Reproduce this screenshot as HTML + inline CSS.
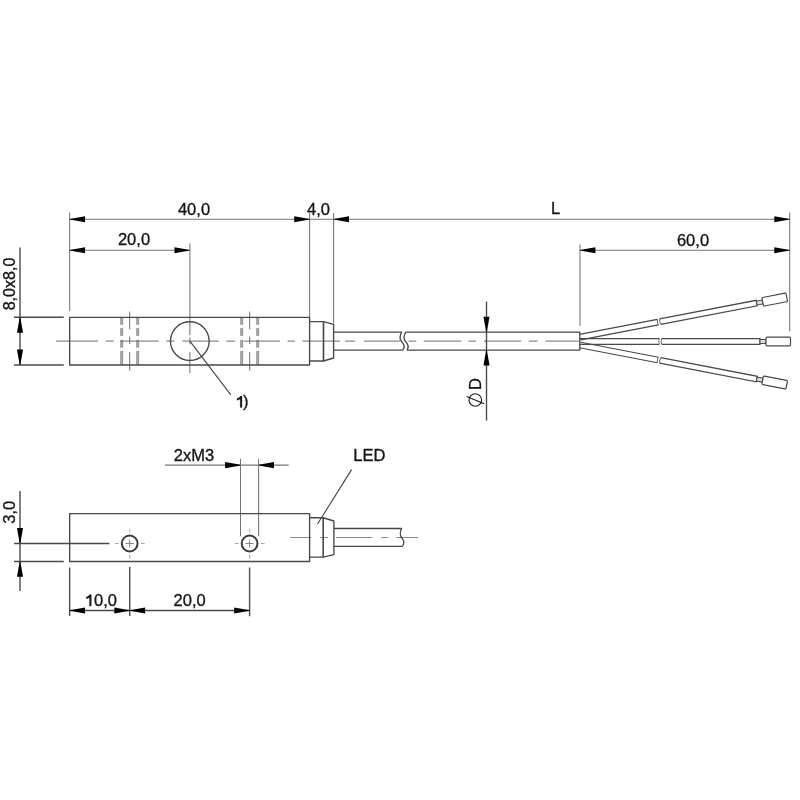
<!DOCTYPE html>
<html><head><meta charset="utf-8"><title>Drawing</title>
<style>html,body{margin:0;padding:0;background:#fff;width:800px;height:800px;overflow:hidden}svg{display:block;will-change:transform}</style>
</head><body>
<svg width="800" height="800" viewBox="0 0 800 800">
<rect x="0" y="0" width="800" height="800" fill="#fff"/>
<line x1="69.65" y1="212.5" x2="69.65" y2="311" stroke="#747474" stroke-width="1.05"/>
<line x1="309.6" y1="213" x2="309.6" y2="317" stroke="#747474" stroke-width="1.05"/>
<line x1="333.6" y1="213" x2="333.6" y2="323.5" stroke="#747474" stroke-width="1.05"/>
<line x1="789.7" y1="212.5" x2="789.7" y2="331.25" stroke="#747474" stroke-width="1.05"/>
<line x1="580" y1="244.4" x2="580" y2="326" stroke="#747474" stroke-width="1.05"/>
<line x1="69.65" y1="219.2" x2="789.7" y2="219.2" stroke="#747474" stroke-width="1.05"/>
<line x1="69.65" y1="250.2" x2="189.9" y2="250.2" stroke="#747474" stroke-width="1.05"/>
<line x1="580" y1="250.2" x2="789.7" y2="250.2" stroke="#747474" stroke-width="1.05"/>
<polygon points="69.65,218.90 69.65,219.50 85.05,222.25 85.05,216.15" fill="#000"/>
<polygon points="309.60,218.90 309.60,219.50 294.20,222.25 294.20,216.15" fill="#000"/>
<polygon points="333.60,218.90 333.60,219.50 349.00,222.25 349.00,216.15" fill="#000"/>
<polygon points="789.70,218.90 789.70,219.50 774.30,222.25 774.30,216.15" fill="#000"/>
<polygon points="69.65,249.90 69.65,250.50 85.05,253.25 85.05,247.15" fill="#000"/>
<polygon points="189.90,249.90 189.90,250.50 174.50,253.25 174.50,247.15" fill="#000"/>
<polygon points="580.00,249.90 580.00,250.50 595.40,253.25 595.40,247.15" fill="#000"/>
<polygon points="789.70,249.90 789.70,250.50 774.30,253.25 774.30,247.15" fill="#000"/>
<line x1="20" y1="247.5" x2="20" y2="365.0" stroke="#4a4a4a" stroke-width="1.4"/>
<line x1="14" y1="317.3" x2="63.8" y2="317.3" stroke="#4a4a4a" stroke-width="1.4"/>
<line x1="14" y1="365.0" x2="63.8" y2="365.0" stroke="#4a4a4a" stroke-width="1.4"/>
<polygon points="19.70,317.30 20.30,317.30 23.05,332.70 16.95,332.70" fill="#000"/>
<polygon points="19.70,365.00 20.30,365.00 23.05,349.60 16.95,349.60" fill="#000"/>
<line x1="189.9" y1="243.5" x2="189.9" y2="335.3" stroke="#747474" stroke-width="1.05"/>
<line x1="189.9" y1="337.5" x2="189.9" y2="344.2" stroke="#6e6e6e" stroke-width="1.0"/>
<line x1="189.9" y1="352.1" x2="189.9" y2="373.1" stroke="#6e6e6e" stroke-width="1.0"/>
<line x1="121.69999999999999" y1="317.3" x2="121.69999999999999" y2="324.7" stroke="#b2b2b2" stroke-width="2.9"/>
<line x1="121.69999999999999" y1="328.1" x2="121.69999999999999" y2="335.9" stroke="#b2b2b2" stroke-width="2.9"/>
<line x1="121.69999999999999" y1="339.9" x2="121.69999999999999" y2="347.6" stroke="#b2b2b2" stroke-width="2.9"/>
<line x1="121.69999999999999" y1="351" x2="121.69999999999999" y2="365.0" stroke="#b2b2b2" stroke-width="2.9"/>
<line x1="137.7" y1="317.3" x2="137.7" y2="324.7" stroke="#b2b2b2" stroke-width="2.9"/>
<line x1="137.7" y1="328.1" x2="137.7" y2="335.9" stroke="#b2b2b2" stroke-width="2.9"/>
<line x1="137.7" y1="339.9" x2="137.7" y2="347.6" stroke="#b2b2b2" stroke-width="2.9"/>
<line x1="137.7" y1="351" x2="137.7" y2="365.0" stroke="#b2b2b2" stroke-width="2.9"/>
<line x1="120.85" y1="317.3" x2="120.85" y2="324.7" stroke="#909090" stroke-width="0.8"/>
<line x1="120.85" y1="328.1" x2="120.85" y2="335.9" stroke="#909090" stroke-width="0.8"/>
<line x1="120.85" y1="339.9" x2="120.85" y2="347.6" stroke="#909090" stroke-width="0.8"/>
<line x1="120.85" y1="351" x2="120.85" y2="365.0" stroke="#909090" stroke-width="0.8"/>
<line x1="122.54999999999998" y1="317.3" x2="122.54999999999998" y2="324.7" stroke="#909090" stroke-width="0.8"/>
<line x1="122.54999999999998" y1="328.1" x2="122.54999999999998" y2="335.9" stroke="#909090" stroke-width="0.8"/>
<line x1="122.54999999999998" y1="339.9" x2="122.54999999999998" y2="347.6" stroke="#909090" stroke-width="0.8"/>
<line x1="122.54999999999998" y1="351" x2="122.54999999999998" y2="365.0" stroke="#909090" stroke-width="0.8"/>
<line x1="136.85" y1="317.3" x2="136.85" y2="324.7" stroke="#909090" stroke-width="0.8"/>
<line x1="136.85" y1="328.1" x2="136.85" y2="335.9" stroke="#909090" stroke-width="0.8"/>
<line x1="136.85" y1="339.9" x2="136.85" y2="347.6" stroke="#909090" stroke-width="0.8"/>
<line x1="136.85" y1="351" x2="136.85" y2="365.0" stroke="#909090" stroke-width="0.8"/>
<line x1="138.54999999999998" y1="317.3" x2="138.54999999999998" y2="324.7" stroke="#909090" stroke-width="0.8"/>
<line x1="138.54999999999998" y1="328.1" x2="138.54999999999998" y2="335.9" stroke="#909090" stroke-width="0.8"/>
<line x1="138.54999999999998" y1="339.9" x2="138.54999999999998" y2="347.6" stroke="#909090" stroke-width="0.8"/>
<line x1="138.54999999999998" y1="351" x2="138.54999999999998" y2="365.0" stroke="#909090" stroke-width="0.8"/>
<line x1="129.7" y1="311.5" x2="129.7" y2="329.2" stroke="#6e6e6e" stroke-width="1.0"/>
<line x1="129.7" y1="336.5" x2="129.7" y2="344" stroke="#6e6e6e" stroke-width="1.0"/>
<line x1="129.7" y1="352.2" x2="129.7" y2="370.6" stroke="#6e6e6e" stroke-width="1.0"/>
<line x1="241.7" y1="317.3" x2="241.7" y2="324.7" stroke="#b2b2b2" stroke-width="2.9"/>
<line x1="241.7" y1="328.1" x2="241.7" y2="335.9" stroke="#b2b2b2" stroke-width="2.9"/>
<line x1="241.7" y1="339.9" x2="241.7" y2="347.6" stroke="#b2b2b2" stroke-width="2.9"/>
<line x1="241.7" y1="351" x2="241.7" y2="365.0" stroke="#b2b2b2" stroke-width="2.9"/>
<line x1="257.7" y1="317.3" x2="257.7" y2="324.7" stroke="#b2b2b2" stroke-width="2.9"/>
<line x1="257.7" y1="328.1" x2="257.7" y2="335.9" stroke="#b2b2b2" stroke-width="2.9"/>
<line x1="257.7" y1="339.9" x2="257.7" y2="347.6" stroke="#b2b2b2" stroke-width="2.9"/>
<line x1="257.7" y1="351" x2="257.7" y2="365.0" stroke="#b2b2b2" stroke-width="2.9"/>
<line x1="240.85" y1="317.3" x2="240.85" y2="324.7" stroke="#909090" stroke-width="0.8"/>
<line x1="240.85" y1="328.1" x2="240.85" y2="335.9" stroke="#909090" stroke-width="0.8"/>
<line x1="240.85" y1="339.9" x2="240.85" y2="347.6" stroke="#909090" stroke-width="0.8"/>
<line x1="240.85" y1="351" x2="240.85" y2="365.0" stroke="#909090" stroke-width="0.8"/>
<line x1="242.54999999999998" y1="317.3" x2="242.54999999999998" y2="324.7" stroke="#909090" stroke-width="0.8"/>
<line x1="242.54999999999998" y1="328.1" x2="242.54999999999998" y2="335.9" stroke="#909090" stroke-width="0.8"/>
<line x1="242.54999999999998" y1="339.9" x2="242.54999999999998" y2="347.6" stroke="#909090" stroke-width="0.8"/>
<line x1="242.54999999999998" y1="351" x2="242.54999999999998" y2="365.0" stroke="#909090" stroke-width="0.8"/>
<line x1="256.84999999999997" y1="317.3" x2="256.84999999999997" y2="324.7" stroke="#909090" stroke-width="0.8"/>
<line x1="256.84999999999997" y1="328.1" x2="256.84999999999997" y2="335.9" stroke="#909090" stroke-width="0.8"/>
<line x1="256.84999999999997" y1="339.9" x2="256.84999999999997" y2="347.6" stroke="#909090" stroke-width="0.8"/>
<line x1="256.84999999999997" y1="351" x2="256.84999999999997" y2="365.0" stroke="#909090" stroke-width="0.8"/>
<line x1="258.55" y1="317.3" x2="258.55" y2="324.7" stroke="#909090" stroke-width="0.8"/>
<line x1="258.55" y1="328.1" x2="258.55" y2="335.9" stroke="#909090" stroke-width="0.8"/>
<line x1="258.55" y1="339.9" x2="258.55" y2="347.6" stroke="#909090" stroke-width="0.8"/>
<line x1="258.55" y1="351" x2="258.55" y2="365.0" stroke="#909090" stroke-width="0.8"/>
<line x1="249.7" y1="311.5" x2="249.7" y2="329.2" stroke="#6e6e6e" stroke-width="1.0"/>
<line x1="249.7" y1="336.5" x2="249.7" y2="344" stroke="#6e6e6e" stroke-width="1.0"/>
<line x1="249.7" y1="352.2" x2="249.7" y2="370.6" stroke="#6e6e6e" stroke-width="1.0"/>
<line x1="56" y1="341.1" x2="98" y2="341.1" stroke="#6e6e6e" stroke-width="1.0"/>
<line x1="105.5" y1="341.1" x2="113.75" y2="341.1" stroke="#6e6e6e" stroke-width="1.0"/>
<line x1="120.5" y1="341.1" x2="158.75" y2="341.1" stroke="#6e6e6e" stroke-width="1.0"/>
<line x1="166.25" y1="341.1" x2="174.4" y2="341.1" stroke="#6e6e6e" stroke-width="1.0"/>
<line x1="182.5" y1="341.1" x2="218.75" y2="341.1" stroke="#6e6e6e" stroke-width="1.0"/>
<line x1="226.25" y1="341.1" x2="235" y2="341.1" stroke="#6e6e6e" stroke-width="1.0"/>
<line x1="243.5" y1="341.1" x2="280" y2="341.1" stroke="#6e6e6e" stroke-width="1.0"/>
<line x1="287.5" y1="341.1" x2="295" y2="341.1" stroke="#6e6e6e" stroke-width="1.0"/>
<line x1="302.5" y1="341.1" x2="340" y2="341.1" stroke="#6e6e6e" stroke-width="1.0"/>
<line x1="345" y1="341.1" x2="355" y2="341.1" stroke="#6e6e6e" stroke-width="1.0"/>
<line x1="363.75" y1="341.1" x2="400" y2="341.1" stroke="#6e6e6e" stroke-width="1.0"/>
<line x1="408.75" y1="341.1" x2="416.25" y2="341.1" stroke="#6e6e6e" stroke-width="1.0"/>
<line x1="423.75" y1="341.1" x2="461.4" y2="341.1" stroke="#6e6e6e" stroke-width="1.0"/>
<line x1="468.4" y1="341.1" x2="476.3" y2="341.1" stroke="#6e6e6e" stroke-width="1.0"/>
<line x1="484" y1="341.1" x2="521" y2="341.1" stroke="#6e6e6e" stroke-width="1.0"/>
<line x1="528.8" y1="341.1" x2="537.6" y2="341.1" stroke="#6e6e6e" stroke-width="1.0"/>
<line x1="545.4" y1="341.1" x2="578.7" y2="341.1" stroke="#6e6e6e" stroke-width="1.0"/>
<path d="M69.65,317.3 H309.6 V365.0 H69.65 Z" stroke="#484848" stroke-width="1.35" fill="none" stroke-linejoin="round"/>
<path d="M309.6,321.6 H323.5 V361 H309.6" stroke="#484848" stroke-width="1.35" fill="none" stroke-linejoin="round"/>
<path d="M323.5,321.6 L333.6,324.4 V358 L323.5,361 Z" stroke="#484848" stroke-width="1.35" fill="none" stroke-linejoin="round"/>
<circle cx="189.8" cy="341.1" r="19.35" stroke="#484848" stroke-width="1.35" fill="none"/>
<path d="M333.6,332.1 H401.8 M333.6,350.1 H402.9 M405.75,332.1 H579.8 V350.1 H407" stroke="#484848" stroke-width="1.35" fill="none" stroke-linejoin="round"/>
<path d="M401.8,332.1 C399.5,335.5 399.5,339.5 401.5,341.5 C404.5,344.5 404.5,348 402.9,350.1" stroke="#484848" stroke-width="1.35" fill="none" stroke-linejoin="round"/>
<path d="M405.75,332.1 C403.5,335.5 403.5,339.5 405.5,341.5 C408.5,344.5 408.5,348 407,350.1" stroke="#484848" stroke-width="1.35" fill="none" stroke-linejoin="round"/>
<line x1="189.9" y1="341.1" x2="230.8" y2="394.9" stroke="#484848" stroke-width="1.15"/>
<line x1="486.5" y1="301.6" x2="486.5" y2="420.6" stroke="#4a4a4a" stroke-width="1.4"/>
<polygon points="486.20,332.10 486.80,332.10 489.55,316.70 483.45,316.70" fill="#000"/>
<polygon points="486.20,350.10 486.80,350.10 489.55,365.50 483.45,365.50" fill="#000"/>
<g transform="translate(580 337.1) rotate(-10.9)"><path d="M0,-2.8 H79.3 M0,2.8 H79.3 M81.7,-2.8 H180 V2.8 H81.7" stroke="#484848" stroke-width="1.2" fill="none"/><path d="M79.3,-2.8 Q78.3,0 79.3,2.8 M81.7,-2.8 Q80.7,0 81.7,2.8" stroke="#484848" stroke-width="0.8" fill="none"/><rect x="180" y="-2" width="6" height="4" stroke="#484848" stroke-width="1.0" fill="#ddd"/><rect x="186" y="-4.35" width="24.5" height="8.7" rx="1" stroke="#484848" stroke-width="1.2" fill="#fff"/></g>
<g transform="translate(580 341.5) rotate(0)"><path d="M0,-2.8 H79.3 M0,2.8 H79.3 M81.7,-2.8 H180 V2.8 H81.7" stroke="#484848" stroke-width="1.2" fill="none"/><path d="M79.3,-2.8 Q78.3,0 79.3,2.8 M81.7,-2.8 Q80.7,0 81.7,2.8" stroke="#484848" stroke-width="0.8" fill="none"/><rect x="180" y="-2" width="6" height="4" stroke="#484848" stroke-width="1.0" fill="#ddd"/><rect x="186" y="-4.35" width="24.5" height="8.7" rx="1" stroke="#484848" stroke-width="1.2" fill="#fff"/></g>
<g transform="translate(580 345.0) rotate(10.9)"><path d="M0,-2.8 H79.3 M0,2.8 H79.3 M81.7,-2.8 H180 V2.8 H81.7" stroke="#484848" stroke-width="1.2" fill="none"/><path d="M79.3,-2.8 Q78.3,0 79.3,2.8 M81.7,-2.8 Q80.7,0 81.7,2.8" stroke="#484848" stroke-width="0.8" fill="none"/><rect x="180" y="-2" width="6" height="4" stroke="#484848" stroke-width="1.0" fill="#ddd"/><rect x="186" y="-4.35" width="24.5" height="8.7" rx="1" stroke="#484848" stroke-width="1.2" fill="#fff"/></g>
<line x1="165" y1="465.1" x2="288.75" y2="465.1" stroke="#747474" stroke-width="1.05"/>
<polygon points="240.50,464.80 240.50,465.40 225.10,468.15 225.10,462.05" fill="#000"/>
<polygon points="258.60,464.80 258.60,465.40 274.00,468.15 274.00,462.05" fill="#000"/>
<line x1="240.5" y1="458.75" x2="240.5" y2="536.25" stroke="#747474" stroke-width="1.05"/>
<line x1="258.6" y1="458.75" x2="258.6" y2="536.25" stroke="#747474" stroke-width="1.05"/>
<line x1="20" y1="491" x2="20" y2="591" stroke="#4a4a4a" stroke-width="1.4"/>
<line x1="14" y1="543.5" x2="109.4" y2="543.5" stroke="#4a4a4a" stroke-width="1.4"/>
<line x1="14" y1="561.45" x2="63.75" y2="561.45" stroke="#4a4a4a" stroke-width="1.4"/>
<polygon points="19.70,543.50 20.30,543.50 23.05,528.10 16.95,528.10" fill="#000"/>
<polygon points="19.70,561.45 20.30,561.45 23.05,576.85 16.95,576.85" fill="#000"/>
<line x1="69.65" y1="567.5" x2="69.65" y2="616" stroke="#4a4a4a" stroke-width="1.4"/>
<line x1="129.7" y1="567" x2="129.7" y2="616" stroke="#4a4a4a" stroke-width="1.4"/>
<line x1="249.6" y1="567.5" x2="249.6" y2="616.25" stroke="#4a4a4a" stroke-width="1.4"/>
<line x1="69.65" y1="610.5" x2="249.6" y2="610.5" stroke="#4a4a4a" stroke-width="1.4"/>
<polygon points="69.65,610.20 69.65,610.80 85.05,613.55 85.05,607.45" fill="#000"/>
<polygon points="129.70,610.20 129.70,610.80 114.30,613.55 114.30,607.45" fill="#000"/>
<polygon points="129.70,610.20 129.70,610.80 145.10,613.55 145.10,607.45" fill="#000"/>
<polygon points="249.60,610.20 249.60,610.80 234.20,613.55 234.20,607.45" fill="#000"/>
<line x1="351.6" y1="469.6" x2="317.5" y2="524" stroke="#484848" stroke-width="1.15"/>
<line x1="290.25" y1="537.5" x2="311.25" y2="537.5" stroke="#888" stroke-width="1.0"/>
<line x1="320" y1="537.5" x2="328" y2="537.5" stroke="#888" stroke-width="1.0"/>
<line x1="336" y1="537.5" x2="372" y2="537.5" stroke="#888" stroke-width="1.0"/>
<line x1="381.3" y1="537.5" x2="387.9" y2="537.5" stroke="#888" stroke-width="1.0"/>
<line x1="396.3" y1="537.5" x2="418.3" y2="537.5" stroke="#888" stroke-width="1.0"/>
<path d="M69.65,513.6 H309.6 V561.45 H69.65 Z" stroke="#484848" stroke-width="1.35" fill="none" stroke-linejoin="round"/>
<path d="M309.6,517.75 H323.3 V557.1 H309.6" stroke="#484848" stroke-width="1.35" fill="none" stroke-linejoin="round"/>
<path d="M323.3,517.75 L333.9,521 V554.7 L323.3,557.1 Z" stroke="#484848" stroke-width="1.35" fill="none" stroke-linejoin="round"/>
<path d="M333.9,528.5 H401.8 M333.9,546.4 H402.3" stroke="#484848" stroke-width="1.35" fill="none" stroke-linejoin="round"/>
<path d="M401.8,528.5 C400,531 400,535 401.4,537.4 C403.5,539.5 405.2,543.5 402.3,546.4" stroke="#484848" stroke-width="1.35" fill="none" stroke-linejoin="round"/>
<circle cx="129.7" cy="543.5" r="7.9" stroke="#3a3a3a" stroke-width="2.0" fill="none"/>
<line x1="125.69999999999999" y1="543.5" x2="133.7" y2="543.5" stroke="#777" stroke-width="0.9"/>
<line x1="129.7" y1="539.5" x2="129.7" y2="547.5" stroke="#777" stroke-width="0.9"/>
<line x1="115.19999999999999" y1="543.5" x2="118.69999999999999" y2="543.5" stroke="#999" stroke-width="0.9"/>
<line x1="141.0" y1="543.5" x2="144.7" y2="543.5" stroke="#999" stroke-width="0.9"/>
<line x1="129.7" y1="528.9" x2="129.7" y2="532.2" stroke="#999" stroke-width="0.9"/>
<line x1="129.7" y1="554.8" x2="129.7" y2="558.5" stroke="#999" stroke-width="0.9"/>
<circle cx="249.6" cy="543.5" r="7.9" stroke="#3a3a3a" stroke-width="2.0" fill="none"/>
<line x1="245.6" y1="543.5" x2="253.6" y2="543.5" stroke="#777" stroke-width="0.9"/>
<line x1="249.6" y1="539.5" x2="249.6" y2="547.5" stroke="#777" stroke-width="0.9"/>
<line x1="235.1" y1="543.5" x2="238.6" y2="543.5" stroke="#999" stroke-width="0.9"/>
<line x1="260.9" y1="543.5" x2="264.6" y2="543.5" stroke="#999" stroke-width="0.9"/>
<line x1="249.6" y1="528.9" x2="249.6" y2="532.2" stroke="#999" stroke-width="0.9"/>
<line x1="249.6" y1="554.8" x2="249.6" y2="558.5" stroke="#999" stroke-width="0.9"/>
<text transform="translate(194 214.85) scale(0.949 1)" x="0" y="0" font-family="Liberation Sans, sans-serif" font-size="17.4" fill="#161616" stroke="#161616" stroke-width="0.35" text-anchor="middle">40,0</text>
<text transform="translate(318.5 214.85) scale(0.949 1)" x="0" y="0" font-family="Liberation Sans, sans-serif" font-size="17.4" fill="#161616" stroke="#161616" stroke-width="0.35" text-anchor="middle">4,0</text>
<text transform="translate(555.5 214.05) scale(0.949 1)" x="0" y="0" font-family="Liberation Sans, sans-serif" font-size="17.4" fill="#161616" stroke="#161616" stroke-width="0.35" text-anchor="middle">L</text>
<text transform="translate(134 245.35) scale(0.949 1)" x="0" y="0" font-family="Liberation Sans, sans-serif" font-size="17.4" fill="#161616" stroke="#161616" stroke-width="0.35" text-anchor="middle">20,0</text>
<text transform="translate(693 245.85) scale(0.949 1)" x="0" y="0" font-family="Liberation Sans, sans-serif" font-size="17.4" fill="#161616" stroke="#161616" stroke-width="0.35" text-anchor="middle">60,0</text>
<text transform="translate(14.95 284) rotate(-90) scale(0.924 1)" x="0" y="0" font-family="Liberation Sans, sans-serif" font-size="17.4" fill="#161616" stroke="#161616" stroke-width="0.35" text-anchor="middle">8,0x8,0</text>
<path d="M242.00,395.90 L242.00,407.40 L240.20,407.40 L240.20,398.90 Q239.20,399.60 237.00,400.30 L237.00,398.60 Q239.50,397.80 240.60,395.90 Z" fill="#161616" stroke="#161616" stroke-width="0.25" stroke-linejoin="round"/>
<text transform="translate(243.1 407.25) scale(0.949 1)" x="0" y="0" font-family="Liberation Sans, sans-serif" font-size="17.4" fill="#161616" stroke="#161616" stroke-width="0.35" text-anchor="start">)</text>
<text transform="translate(480.75 384) rotate(-90) scale(0.949 1)" x="0" y="0" font-family="Liberation Sans, sans-serif" font-size="17.4" fill="#161616" stroke="#161616" stroke-width="0.35" text-anchor="middle">D</text>
<circle cx="475.3" cy="400" r="6.3" stroke="#161616" stroke-width="1.1" fill="none"/>
<line x1="466.6" y1="396.6" x2="484.2" y2="403.7" stroke="#161616" stroke-width="1.1"/>
<text transform="translate(194 460.65) scale(0.949 1)" x="0" y="0" font-family="Liberation Sans, sans-serif" font-size="17.4" fill="#161616" stroke="#161616" stroke-width="0.35" text-anchor="middle">2xM3</text>
<text transform="translate(369.3 460.85) scale(0.949 1)" x="0" y="0" font-family="Liberation Sans, sans-serif" font-size="17.4" fill="#161616" stroke="#161616" stroke-width="0.35" text-anchor="middle">LED</text>
<text transform="translate(15.15 512.3) rotate(-90) scale(0.949 1)" x="0" y="0" font-family="Liberation Sans, sans-serif" font-size="17.4" fill="#161616" stroke="#161616" stroke-width="0.35" text-anchor="middle">3,0</text>
<path d="M91.30,594.40 L91.30,605.90 L89.50,605.90 L89.50,597.40 Q88.50,598.10 86.30,598.80 L86.30,597.10 Q88.80,596.30 89.90,594.40 Z" fill="#161616" stroke="#161616" stroke-width="0.25" stroke-linejoin="round"/>
<text transform="translate(94.05 606.15) scale(0.949 1)" x="0" y="0" font-family="Liberation Sans, sans-serif" font-size="17.4" fill="#161616" stroke="#161616" stroke-width="0.35" text-anchor="start">0,0</text>
<text transform="translate(189.6 606.15) scale(0.949 1)" x="0" y="0" font-family="Liberation Sans, sans-serif" font-size="17.4" fill="#161616" stroke="#161616" stroke-width="0.35" text-anchor="middle">20,0</text>
</svg>
</body></html>
